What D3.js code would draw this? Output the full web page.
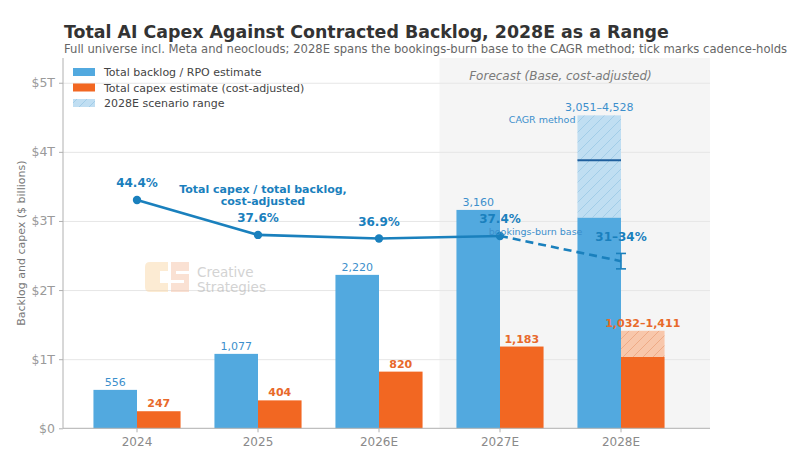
<!DOCTYPE html>
<html>
<head>
<meta charset="utf-8">
<script src="https://cdn.jsdelivr.net/npm/d3@7.9.0/dist/d3.min.js"></script>
<style>
  body { margin: 0; background: #fff; }
  svg { font-family: "DejaVu Sans", sans-serif; display: block; }
</style>
</head>
<body>
<svg id="chart" width="806" height="468"></svg>
<script>
const years = ['2024', '2025', '2026E', '2027E', '2028E'];
const backlog = [556, 1077, 2220, 3160, 3051];
const capex = [247, 404, 820, 1183, 1032];
const backlogHigh = 4528;   // 2028E CAGR method
const backlogMark = 3880;   // cadence-hold tick
const capexHigh = 1411;
const ratio = [0.444, 0.376, 0.369, 0.374];
const ratioRange = [0.31, 0.34];
const yTicks = [0, 1000, 2000, 3000, 4000, 5000];
const yTickLabels = ['$0', '$1T', '$2T', '$3T', '$4T', '$5T'];

const BLUE = '#52a9df', ORANGE = '#f26722', LINE = '#1a80bd';
const LABEL_BLUE = '#3c8fcc', LABEL_ORANGE = '#e8692b';

const width = 806, height = 468;
const margin = { top: 58, right: 96, bottom: 40, left: 63 };
const plot = {
  left: margin.left, right: width - margin.right,
  top: margin.top, bottom: height - margin.bottom + 0.3
};

const svg = d3.select('#chart');

// hatch patterns
const defs = svg.append('defs');
function hatch(id, bg, stroke) {
  const p = defs.append('pattern').attr('id', id)
    .attr('patternUnits', 'userSpaceOnUse').attr('width', 10).attr('height', 10);
  p.append('rect').attr('width', 10).attr('height', 10).attr('fill', bg);
  p.append('path').attr('d', 'M-2,2 l4,-4 M0,10 l10,-10 M8,12 l4,-4')
    .attr('stroke', stroke).attr('stroke-width', 0.7);
}
hatch('hatchBlue', '#c0def2', '#95c5e4');
hatch('hatchOrange', '#f8c7ab', '#e99d76');

const x = d3.scaleBand().domain(years).range([76.5, 681.5]).paddingInner(0).paddingOuter(0);
const cx = d => x(d) + x.bandwidth() / 2;
const barW = 0.36 * x.step();

const y = d3.scaleLinear().domain([0, 5358]).range([plot.bottom, plot.top]);
const yr = d3.scaleLinear().domain([0, 0.72]).range([plot.bottom, plot.top]);

// forecast shading
const shadeX = (cx('2026E') + cx('2027E')) / 2;
svg.append('rect')
  .attr('x', shadeX).attr('y', plot.top)
  .attr('width', plot.right - shadeX)
  .attr('height', plot.bottom - plot.top)
  .attr('fill', '#f5f5f5');

svg.append('text')
  .attr('x', (cx('2027E') + cx('2028E')) / 2).attr('y', 80)
  .attr('text-anchor', 'middle').attr('font-size', 12).attr('font-style', 'italic')
  .attr('fill', '#7a7a7a').text('Forecast (Base, cost-adjusted)');

// gridlines
svg.append('g')
  .attr('transform', `translate(${plot.left},0)`)
  .call(d3.axisLeft(y).tickValues(yTicks.slice(1)).tickFormat('').tickSize(-(plot.right - plot.left)))
  .call(g => g.select('.domain').remove())
  .call(g => g.selectAll('line').attr('stroke', '#e6e6e6').attr('stroke-width', 1));

// watermark
const wm = svg.append('g').attr('opacity', 0.5);
wm.append('path')
  .attr('d', 'M150,262 h18 v9 h-8 v12 h8 v9 h-18 q-5,0 -5,-5 v-20 q0,-5 5,-5 z')
  .attr('fill', '#fbd9a8');
wm.append('path')
  .attr('d', 'M171,262 h18 v9 h-13 v3 h13 v18 h-18 v-9 h13 v-3 h-13 z')
  .attr('fill', '#f7c4a8');
wm.append('text').attr('x', 197).attr('y', 277).attr('font-size', 13.5)
  .attr('fill', '#a8a8a8').text('Creative');
wm.append('text').attr('x', 197).attr('y', 292).attr('font-size', 13.5)
  .attr('fill', '#a8a8a8').text('Strategies');

// bars
svg.append('g').selectAll('rect')
  .data(years)
  .join('rect')
  .attr('x', d => cx(d) - barW)
  .attr('y', (d, i) => y(backlog[i]))
  .attr('width', barW)
  .attr('height', (d, i) => y(0) - y(backlog[i]))
  .attr('fill', BLUE);

svg.append('g').selectAll('rect')
  .data(years)
  .join('rect')
  .attr('x', d => cx(d))
  .attr('y', (d, i) => y(capex[i]))
  .attr('width', barW)
  .attr('height', (d, i) => y(0) - y(capex[i]))
  .attr('fill', ORANGE);

// 2028E ranges
const last = years[4];
svg.append('rect')
  .attr('x', cx(last) - barW).attr('y', y(backlogHigh))
  .attr('width', barW).attr('height', y(backlog[4]) - y(backlogHigh))
  .attr('fill', 'url(#hatchBlue)');
svg.append('line')
  .attr('x1', cx(last) - barW).attr('x2', cx(last))
  .attr('y1', y(backlogMark)).attr('y2', y(backlogMark))
  .attr('stroke', '#1f5f9e').attr('stroke-width', 2);
svg.append('rect')
  .attr('x', cx(last)).attr('y', y(capexHigh))
  .attr('width', barW).attr('height', y(capex[4]) - y(capexHigh))
  .attr('fill', 'url(#hatchOrange)');

// bar labels
svg.append('g').selectAll('text')
  .data(years.slice(0, 4))
  .join('text')
  .attr('x', d => cx(d) - barW / 2)
  .attr('y', (d, i) => y(backlog[i]) - 4)
  .attr('text-anchor', 'middle').attr('font-size', 11).attr('fill', LABEL_BLUE)
  .text((d, i) => d3.format(',')(backlog[i]));

svg.append('g').selectAll('text')
  .data(years.slice(0, 4))
  .join('text')
  .attr('x', d => cx(d) + barW / 2)
  .attr('y', (d, i) => y(capex[i]) - 4)
  .attr('text-anchor', 'middle').attr('font-size', 11).attr('font-weight', 'bold')
  .attr('fill', LABEL_ORANGE)
  .text((d, i) => d3.format(',')(capex[i]));

svg.append('text')
  .attr('x', cx(last) - barW / 2).attr('y', y(backlogHigh) - 4)
  .attr('text-anchor', 'middle').attr('font-size', 11).attr('fill', LABEL_BLUE)
  .text(`${d3.format(',')(backlog[4])}–${d3.format(',')(backlogHigh)}`);
svg.append('text')
  .attr('x', cx(last) - barW - 2).attr('y', y(backlogHigh) + 8)
  .attr('text-anchor', 'end').attr('font-size', 9.5).attr('fill', LABEL_BLUE)
  .text('CAGR method');
svg.append('text')
  .attr('x', cx(last) + barW / 2).attr('y', y(capexHigh) - 4)
  .attr('text-anchor', 'middle').attr('font-size', 11).attr('font-weight', 'bold')
  .attr('fill', LABEL_ORANGE)
  .text(`${d3.format(',')(capex[4])}–${d3.format(',')(capexHigh)}`);

// ratio line
const pts = years.slice(0, 4).map((d, i) => [cx(d), yr(ratio[i])]);
svg.append('path')
  .attr('d', d3.line()(pts))
  .attr('fill', 'none').attr('stroke', LINE).attr('stroke-width', 2.6);
const mid = (ratioRange[0] + ratioRange[1]) / 2;
svg.append('path')
  .attr('d', d3.line()([pts[3], [cx(last), yr(mid)]]))
  .attr('fill', 'none').attr('stroke', LINE).attr('stroke-width', 2.6)
  .attr('stroke-dasharray', '8,5');
svg.append('g').selectAll('circle')
  .data(pts)
  .join('circle')
  .attr('cx', d => d[0]).attr('cy', d => d[1]).attr('r', 4.2)
  .attr('fill', LINE);

// error bar
const eb = svg.append('g').attr('stroke', LINE).attr('stroke-width', 1.6);
eb.append('line').attr('x1', cx(last)).attr('x2', cx(last))
  .attr('y1', yr(ratioRange[0])).attr('y2', yr(ratioRange[1]));
eb.append('line').attr('x1', cx(last) - 5).attr('x2', cx(last) + 5)
  .attr('y1', yr(ratioRange[0])).attr('y2', yr(ratioRange[0]));
eb.append('line').attr('x1', cx(last) - 5).attr('x2', cx(last) + 5)
  .attr('y1', yr(ratioRange[1])).attr('y2', yr(ratioRange[1]));

svg.append('g').selectAll('text')
  .data(pts)
  .join('text')
  .attr('x', d => d[0]).attr('y', d => d[1] - 13)
  .attr('text-anchor', 'middle').attr('font-size', 12).attr('font-weight', 'bold')
  .attr('fill', LINE)
  .text((d, i) => d3.format('.1%')(ratio[i]));

svg.append('text')
  .attr('x', cx(last) - barW + 5).attr('y', 235)
  .attr('text-anchor', 'end').attr('font-size', 9.5).attr('fill', LABEL_BLUE)
  .text('bookings-burn base');
svg.append('text')
  .attr('x', cx(last)).attr('y', 241)
  .attr('text-anchor', 'middle').attr('font-size', 12).attr('font-weight', 'bold')
  .attr('fill', LINE)
  .text(`${Math.round(ratioRange[0] * 100)}–${Math.round(ratioRange[1] * 100)}%`);

const note = svg.append('text')
  .attr('text-anchor', 'middle').attr('font-size', 11).attr('font-weight', 'bold')
  .attr('fill', LINE);
note.append('tspan').attr('x', 263).attr('y', 193).text('Total capex / total backlog,');
note.append('tspan').attr('x', 263).attr('y', 205).text('cost-adjusted');

// axes
svg.append('g')
  .attr('transform', `translate(${plot.left},0)`)
  .call(d3.axisLeft(y).tickValues(yTicks).tickFormat((d, i) => yTickLabels[i]).tickSize(4).tickPadding(4))
  .call(g => g.select('.domain').attr('d', `M0,${plot.top}V${plot.bottom}`).attr('stroke', '#b0b0b0'))
  .call(g => g.selectAll('.tick line').attr('stroke', '#b0b0b0'))
  .call(g => g.selectAll('.tick text').attr('font-size', 12.5).attr('fill', '#9a9a9a')
    .attr('font-family', '"DejaVu Sans", sans-serif'));

svg.append('g')
  .attr('transform', `translate(0,${plot.bottom})`)
  .call(d3.axisBottom(x).tickSize(4).tickPadding(5))
  .call(g => g.select('.domain').attr('d', `M${plot.left},0H${plot.right}`).attr('stroke', '#b0b0b0'))
  .call(g => g.selectAll('.tick line').attr('stroke', '#b0b0b0'))
  .call(g => g.selectAll('.tick text').attr('font-size', 12).attr('fill', '#8a8a8a')
    .attr('font-family', '"DejaVu Sans", sans-serif'));

svg.append('text')
  .attr('transform', `translate(25,${(plot.top + plot.bottom) / 2}) rotate(-90)`)
  .attr('text-anchor', 'middle').attr('font-size', 11).attr('fill', '#777')
  .text('Backlog and capex ($ billions)');

// legend
const legendItems = [
  { label: 'Total backlog / RPO estimate', fill: BLUE },
  { label: 'Total capex estimate (cost-adjusted)', fill: ORANGE },
  { label: '2028E scenario range', fill: 'url(#hatchBlue)' }
];
const lg = svg.append('g').selectAll('g')
  .data(legendItems)
  .join('g')
  .attr('transform', (d, i) => `translate(73,${72 + i * 15.5})`);
lg.append('rect').attr('x', 0).attr('y', -4).attr('width', 22).attr('height', 8)
  .attr('fill', d => d.fill);
lg.append('text').attr('x', 31).attr('y', 4).attr('font-size', 11).attr('fill', '#444')
  .text(d => d.label);

// titles
svg.append('text')
  .attr('x', 64).attr('y', 37.5).attr('font-size', 17.4).attr('font-weight', 'bold')
  .attr('fill', '#333')
  .text('Total AI Capex Against Contracted Backlog, 2028E as a Range');
svg.append('text')
  .attr('x', 64).attr('y', 53).attr('font-size', 11.6).attr('fill', '#666')
  .text('Full universe incl. Meta and neoclouds; 2028E spans the bookings-burn base to the CAGR method; tick marks cadence-holds');
</script>
</body>
</html>
